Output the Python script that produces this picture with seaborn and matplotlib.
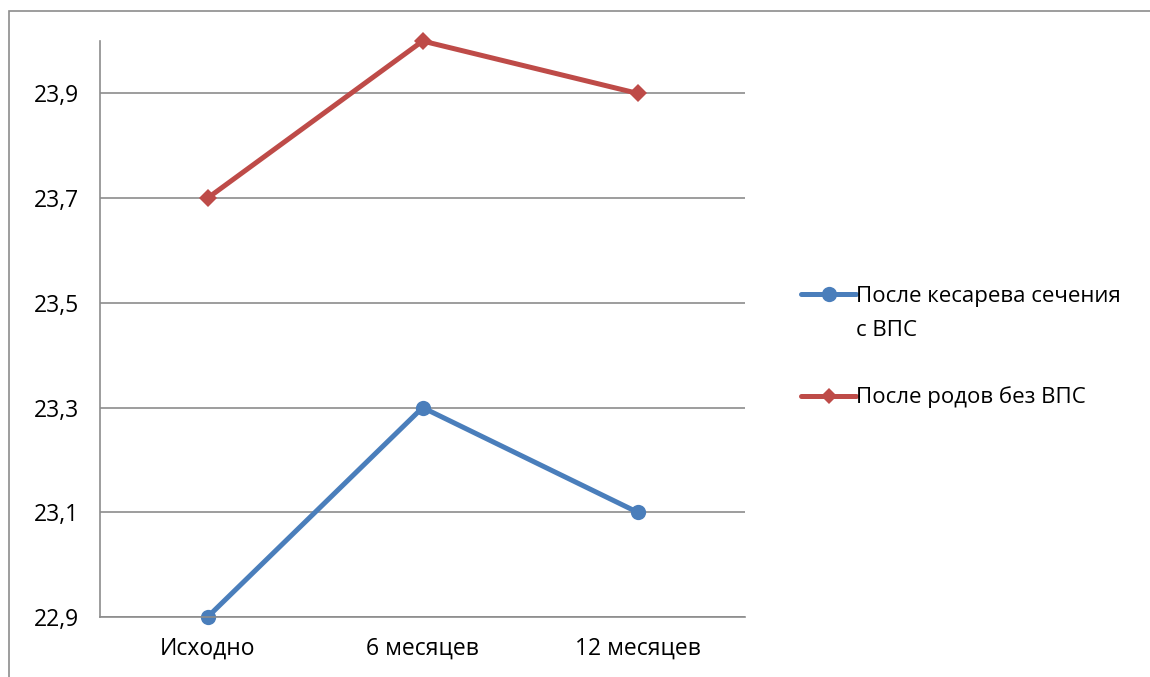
import matplotlib
matplotlib.use("Agg")
import matplotlib.pyplot as plt
import seaborn as sns
import pandas as pd
from matplotlib.patches import Rectangle
from matplotlib.lines import Line2D
from matplotlib.ticker import FixedLocator, FuncFormatter

# data
periods = ["Исходно", "6 месяцев", "12 месяцев"]
cesarean = [22.9, 23.3, 23.1]
natural = [23.7, 24.0, 23.9]
series_names = ["После кесарева сечения с ВПС", "После родов без ВПС"]
y_ticks = [22.9, 23.1, 23.3, 23.5, 23.7, 23.9]
colors = ["#4A7EBB", "#BE4B48"]

df = pd.DataFrame(
    {
        "period": periods * 2,
        "value": cesarean + natural,
        "series": [series_names[0]] * 3 + [series_names[1]] * 3,
    }
)

sns.set_style("white")
plt.rcParams["font.family"] = ["Open Sans", "DejaVu Sans"]
plt.rcParams["text.color"] = "black"
plt.rcParams["xtick.color"] = "black"
plt.rcParams["ytick.color"] = "black"

fig = plt.figure(figsize=(11.5, 6.77), dpi=100)
ax = fig.add_axes([0.087, 0.0886, 0.561, 0.8508])

sns.lineplot(
    data=df,
    x="period",
    y="value",
    hue="series",
    style="series",
    palette=colors,
    markers=["o", "D"],
    dashes=False,
    linewidth=3.6,
    markersize=11,
    markeredgewidth=0,
    ax=ax,
    sort=False,
    legend=False,
)
for line in ax.get_lines():
    line.set_clip_on(False)
ax.get_lines()[1].set_markersize(9.5)

ax.set_xlim(-0.5, 2.5)
ax.set_ylim(22.9, 24.0)
ax.set_xlabel("")
ax.set_ylabel("")

ax.yaxis.set_major_locator(FixedLocator(y_ticks))
ax.yaxis.set_major_formatter(FuncFormatter(lambda v, p: f"{v:.1f}".replace(".", ",")))
ax.grid(axis="y", color="#8C8C8C", linewidth=1.2)
ax.set_axisbelow(True)

ax.set_xticks([0, 1, 2])
ax.set_xticklabels(periods)
ax.set_xticks([-0.5, 0.5, 1.5, 2.5], minor=True)
ax.tick_params(axis="x", which="major", length=0, pad=14, labelsize=16.5)
ax.tick_params(axis="x", which="minor", length=7, color="#8C8C8C", width=1.2, direction="out")
ax.tick_params(axis="y", length=7, color="#8C8C8C", width=1.2, direction="out", pad=8,
               labelsize=16.5, labelcolor="black")
ax.tick_params(axis="x", labelcolor="black")

for side in ["top", "right"]:
    ax.spines[side].set_visible(False)
for side in ["left", "bottom"]:
    ax.spines[side].set_color("#8C8C8C")
    ax.spines[side].set_linewidth(1.2)

# legend: first label wraps onto a second line, handle stays on the first line
blank = Line2D([], [], linestyle="none")
handles = [
    Line2D([], [], color=colors[0], lw=3.6, marker="o", ms=11, mew=0),
    blank,
    blank,
    Line2D([], [], color=colors[1], lw=3.6, marker="D", ms=8, mew=0),
]
labels = ["После кесарева сечения", "с ВПС", "", series_names[1]]
ax.legend(
    handles,
    labels,
    loc="center left",
    bbox_to_anchor=(0.679, 0.487),
    bbox_transform=fig.transFigure,
    frameon=False,
    fontsize=16,
    handlelength=2.5,
    handletextpad=0.0,
    labelspacing=0.56,
)

fig.patches.append(
    Rectangle((0.008, -0.1), 1.1, 1.084, transform=fig.transFigure,
              fill=False, edgecolor="#8C8C8C", linewidth=1.2)
)

fig.savefig("out.png", dpi=100)
